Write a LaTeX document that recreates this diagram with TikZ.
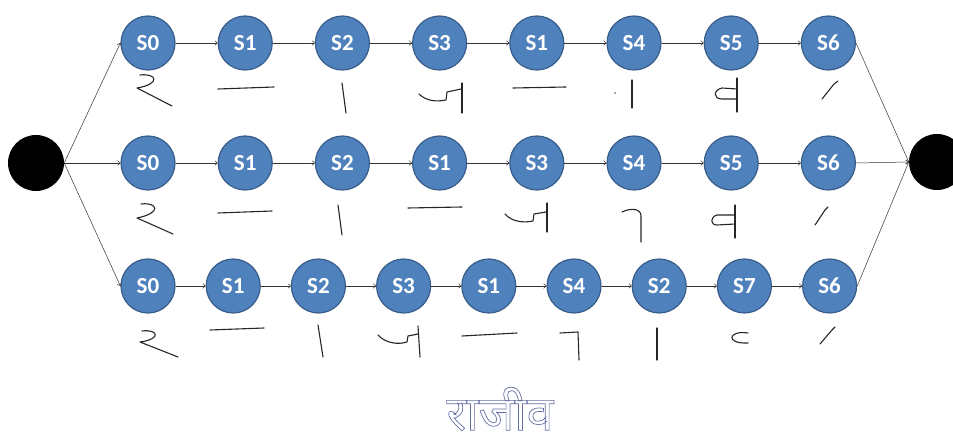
\documentclass[tikz,border=0pt]{standalone}
\usepackage{fontspec}
\usepackage{xcolor}
\usepackage{tikz}
\usetikzlibrary{arrows.meta, positioning}
\newfontfamily\calibri{Carlito}
\newfontfamily\deva[Script=Devanagari]{Noto Sans}
\definecolor{stateblue}{RGB}{79,129,189}
\definecolor{stateedge}{RGB}{56,93,138}
\definecolor{inkblue}{RGB}{100,110,165}
\newcommand\hollow[1]{\special{pdf:literal 0.7 w 1 Tr}#1\special{pdf:literal 0 Tr}}
\tikzset{
    stnode/.style={circle, minimum size=54pt, inner sep=0pt, draw=stateedge, line width=1.2pt, fill=stateblue, text=white, font=\calibri\bfseries\fontsize{23}{23}\selectfont},
    terminal/.style={circle, minimum size=56pt, inner sep=0pt, fill=black},
    hand/.style={line width=1.1pt, line cap=round, line join=round, black!85}
}

\begin{document}
\begin{tikzpicture}[x=1pt, y=-1pt,
  arrow/.style={-{To[length=3pt, width=5pt]}, line width=0.5pt, black!80},
  wide/.style={right=42pt of #1},
  tight/.style={right=30pt of #1}]
  \useasboundingbox (0,0) rectangle (953,446);
  \node[terminal] (start) at (36,163) {};
  \node[terminal] (stop) at (937,162) {};
  % first row
  \node[stnode] (r1s0) at (148,43) {S0};
  \node[stnode, wide=r1s0] (r1s1) {S1};
  \node[stnode, wide=r1s1] (r1s2) {S2};
  \node[stnode, wide=r1s2] (r1s3) {S3};
  \node[stnode, wide=r1s3] (r1s4) {S1};
  \node[stnode, wide=r1s4] (r1s5) {S4};
  \node[stnode, wide=r1s5] (r1s6) {S5};
  \node[stnode, wide=r1s6] (r1s7) {S6};
  % second row
  \node[stnode] (r2s0) at (148,163) {S0};
  \node[stnode, wide=r2s0] (r2s1) {S1};
  \node[stnode, wide=r2s1] (r2s2) {S2};
  \node[stnode, wide=r2s2] (r2s3) {S1};
  \node[stnode, wide=r2s3] (r2s4) {S3};
  \node[stnode, wide=r2s4] (r2s5) {S4};
  \node[stnode, wide=r2s5] (r2s6) {S5};
  \node[stnode, wide=r2s6] (r2s7) {S6};
  % third row
  \node[stnode] (r3s0) at (148,286) {S0};
  \node[stnode, tight=r3s0] (r3s1) {S1};
  \node[stnode, tight=r3s1] (r3s2) {S2};
  \node[stnode, tight=r3s2] (r3s3) {S3};
  \node[stnode, tight=r3s3] (r3s4) {S1};
  \node[stnode, tight=r3s4] (r3s5) {S4};
  \node[stnode, tight=r3s5] (r3s6) {S2};
  \node[stnode, tight=r3s6] (r3s7) {S7};
  \node[stnode, tight=r3s7] (r3s8) {S6};
  \node[text=inkblue, font=\deva\fontsize{48}{48}\selectfont] (name) at (500,409) {\hollow{राजीव}};
  % fan out and in
  \draw[arrow] (start.east) -- (r1s0.west);
  \draw[arrow] (start.east) -- (r2s0.west);
  \draw[arrow] (start.east) -- (r3s0.west);
  \draw[arrow] (r1s7.east) -- (stop.west);
  \draw[arrow] (r2s7.east) -- (stop.west);
  \draw[arrow] (r3s8.east) -- (stop.west);
  % chains
  \draw[arrow] (r1s0) -- (r1s1);
  \draw[arrow] (r1s1) -- (r1s2);
  \draw[arrow] (r1s2) -- (r1s3);
  \draw[arrow] (r1s3) -- (r1s4);
  \draw[arrow] (r1s4) -- (r1s5);
  \draw[arrow] (r1s5) -- (r1s6);
  \draw[arrow] (r1s6) -- (r1s7);
  \draw[arrow] (r2s0) -- (r2s1);
  \draw[arrow] (r2s1) -- (r2s2);
  \draw[arrow] (r2s2) -- (r2s3);
  \draw[arrow] (r2s3) -- (r2s4);
  \draw[arrow] (r2s4) -- (r2s5);
  \draw[arrow] (r2s5) -- (r2s6);
  \draw[arrow] (r2s6) -- (r2s7);
  \draw[arrow] (r3s0) -- (r3s1);
  \draw[arrow] (r3s1) -- (r3s2);
  \draw[arrow] (r3s2) -- (r3s3);
  \draw[arrow] (r3s3) -- (r3s4);
  \draw[arrow] (r3s4) -- (r3s5);
  \draw[arrow] (r3s5) -- (r3s6);
  \draw[arrow] (r3s6) -- (r3s7);
  \draw[arrow] (r3s7) -- (r3s8);
  % handwritten pieces, first row
  \draw[hand] (140,75) .. controls (157,73) and (161,84) .. (137,88) -- (172,106);
  \draw[hand] (218,89) -- (274,87);
  \draw[hand] (342,83) -- (346,113);
  \draw[hand] (419,94) .. controls (426,101) and (436,102) .. (446,100) -- (447,92) -- (461,89);
  \draw[hand] (462,83) -- (462,113);
  \draw[hand] (513,88) -- (566,87);
  \fill[black!70] (615,93) circle (0.9);
  \draw[hand] (632,80) -- (632,108);
  \draw[hand] (737,78) -- (737,112);
  \draw[hand] (737,89) -- (722,88) .. controls (713,90) and (713,99) .. (722,99) -- (737,99);
  \draw[hand] (838,81) -- (834,84) -- (822,99);
  % second row
  \draw[hand] (141,204) .. controls (158,202) and (162,213) .. (137,218) -- (173,234);
  \draw[hand] (218,213) -- (272,211);
  \draw[hand] (338,205) -- (342,235);
  \draw[hand] (408,208) -- (462,207);
  \draw[hand] (505,214) .. controls (512,222) and (524,223) .. (533,221) -- (534,214) -- (546,212);
  \draw[hand] (547,203) -- (547,232);
  \draw[hand] (622,212) .. controls (630,208) and (641,208) .. (641,216) -- (641,242);
  \draw[hand] (735,205) -- (735,238);
  \draw[hand] (735,215) -- (717,215) .. controls (710,217) and (710,225) .. (717,225) -- (735,224);
  \draw[hand] (828,207) -- (825,210) -- (815,225);
  % third row
  \draw[hand] (142,331) .. controls (158,329) and (162,339) .. (140,342) -- (178,357);
  \draw[hand] (210,330) -- (264,328);
  \draw[hand] (318,325) -- (323,357);
  \draw[hand] (378,335) .. controls (385,343) and (398,345) .. (407,342) -- (408,336) -- (418,334);
  \draw[hand] (418,326) -- (420,357);
  \draw[hand] (462,336) -- (517,333);
  \draw[hand] (560,333) -- (578,332) -- (579,360);
  \draw[hand] (657,328) -- (657,360);
  \draw[hand] (748,333) .. controls (728,330) and (725,344) .. (748,343);
  \draw[hand] (835,327) -- (832,330) -- (820,344);
\end{tikzpicture}
\end{document}
